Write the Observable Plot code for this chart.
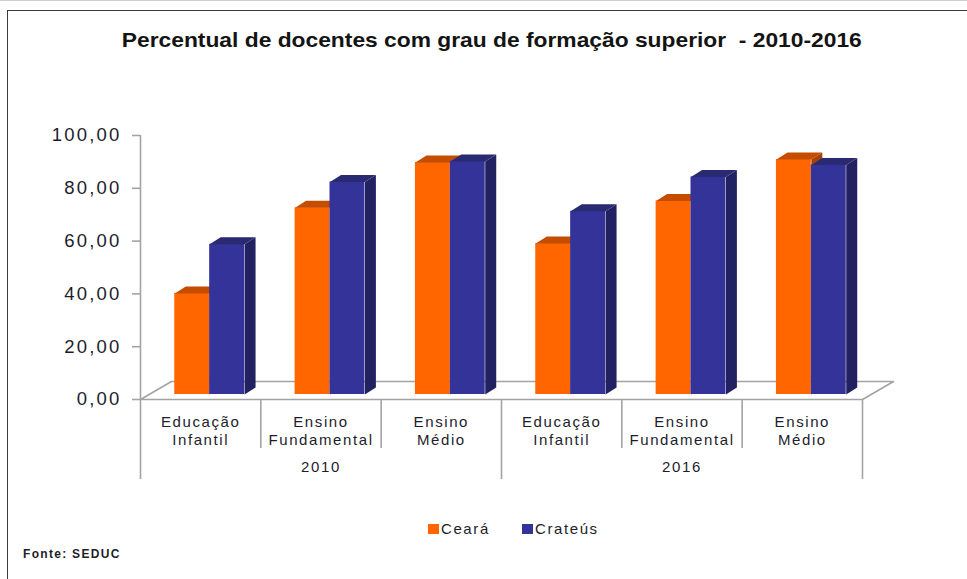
<!DOCTYPE html>
<html>
<head>
<meta charset="utf-8">
<script src="https://cdn.jsdelivr.net/npm/d3@7"></script>
<script src="https://cdn.jsdelivr.net/npm/@observablehq/plot@0.6"></script>
<style>
  html, body { margin: 0; padding: 0; background: #fff; overflow: hidden; width: 967px; height: 579px; }
  body { position: relative; font-family: "Liberation Sans", Arial, sans-serif; }
  #topline { position: absolute; left: 0; top: 0; width: 967px; height: 1px; background: #cfcfcf; }
  #frame { position: absolute; left: 7px; top: 10px; width: 1200px; height: 900px; border-left: 1px solid #3c3c3c; border-top: 1px solid #3c3c3c; }
  #title { position: absolute; top: 29px; left: 0; width: 984px; text-align: center; }
  #title span { display: inline-block; font-weight: bold; font-size: 21px; line-height: 21px; white-space: pre; color: #141414; transform-origin: 50% 50%; }
  #chart { position: absolute; left: 0; top: 0; }
  .lg-sw { position: absolute; width: 11px; height: 10px; }
  .lg-tx { position: absolute; font-size: 15px; line-height: 15px; letter-spacing: 1.6px; color: #1d1d2b; white-space: pre; }
  #caption { position: absolute; left: 23px; top: 548px; font-size: 12px; line-height: 12px; font-weight: bold; letter-spacing: 1.3px; color: #1d1d2b; white-space: pre; }
  g[aria-label="y-axis tick label"] text { letter-spacing: 2.2px; }
  g[aria-label="text"] text { letter-spacing: 1.6px; }
</style>
</head>
<body>
<div id="topline"></div>
<div id="frame"></div>
<div id="title"><span id="titleText"></span></div>
<div id="chart"></div>
<div id="legend"></div>
<div id="caption"></div>
<script>
// ---------------- data ----------------
const titleText = "Percentual de docentes com grau de formação superior  - 2010-2016";
const captionText = "Fonte: SEDUC";
const categories = ["Educação\nInfantil", "Ensino\nFundamental", "Ensino\nMédio",
                    "Educação\nInfantil", "Ensino\nFundamental", "Ensino\nMédio"];
const years = ["2010", "2016"];
const series = ["Ceará", "Crateús"];
const ceara   = [38.3, 70.7, 87.9, 57.2, 73.3, 89.0];
const crateus = [56.9, 80.5, 88.3, 69.4, 82.4, 86.9];
const yTicks = [0, 20, 40, 60, 80, 100];

// ---------------- styles ----------------
const frontColors = ["#FF6600", "#333399"];
const topColors   = ["#C44D00", "#2A2A72"];
const sideColors  = ["#A94200", "#222262"];
const gridGray = "#a3a3a3";
const textColor = "#1d1d2b";

// layout
const W = 967, H = 490;
const mL = 140, mR = 105, mT = 135, mB = 91;
const kx = categories.length / (W - mL - mR);   // x units per px
const ky = 100 / (H - mT - mB);                   // y units per px
const BAR = 0.29;                                 // bar width as fraction of band
const SHIFT_X = 9, SHIFT_Y = -5;                  // 3D plane shift of bars (px)
const DEPTH_X = 11 * kx, DEPTH_Y = 7 * ky;        // bar depth (in units)
const FLOOR_X = 31 * kx, FLOOR_Y = 18 * ky;       // floor depth (in units)

// ---------------- build tables ----------------
const values = [ceara, crateus];
const bars = [];
categories.forEach((c, i) => {
  series.forEach((s, si) => {
    const x1 = i + 0.5 - BAR + si * BAR;
    bars.push({id: `${i}-${si}`, si, x1, x2: x1 + BAR, v: values[si][i]});
  });
});
function sidePoly(b) {
  return [
    {id: b.id, x: b.x2, y: 0},
    {id: b.id, x: b.x2, y: b.v},
    {id: b.id, x: b.x2 + DEPTH_X, y: b.v + DEPTH_Y},
    {id: b.id, x: b.x2 + DEPTH_X, y: DEPTH_Y}
  ];
}
function topPoly(b) {
  return [
    {id: b.id, x: b.x1, y: b.v},
    {id: b.id, x: b.x2, y: b.v},
    {id: b.id, x: b.x2 + DEPTH_X, y: b.v + DEPTH_Y},
    {id: b.id, x: b.x1 + DEPTH_X, y: b.v + DEPTH_Y}
  ];
}
const n = categories.length;
const floor = [
  {x: 0, y: 0}, {x: n, y: 0}, {x: n + FLOOR_X, y: FLOOR_Y}, {x: FLOOR_X, y: FLOOR_Y}
];

const barMarks = [];
series.forEach((s, si) => {
  const bs = bars.filter(b => b.si === si);
  barMarks.push(
    Plot.rectY(bs, {x1: "x1", x2: "x2", y1: 0, y2: "v", fill: frontColors[si], dx: SHIFT_X, dy: SHIFT_Y}),
    Plot.line(bs.flatMap(sidePoly), {x: "x", y: "y", z: "id", fill: sideColors[si], stroke: "none", curve: "linear-closed", dx: SHIFT_X, dy: SHIFT_Y}),
    Plot.line(bs.flatMap(topPoly), {x: "x", y: "y", z: "id", fill: topColors[si], stroke: "none", curve: "linear-closed", dx: SHIFT_X, dy: SHIFT_Y})
  );
});

const fmt = d => d.toFixed(2).replace(".", ",");

const chart = Plot.plot({
  width: W, height: H,
  marginLeft: mL, marginRight: mR, marginTop: mT, marginBottom: mB,
  style: {fontFamily: '"Liberation Sans", Arial, sans-serif', background: "transparent", overflow: "visible"},
  x: {domain: [0, n]},
  y: {domain: [0, 100]},
  marks: [
    Plot.line(floor, {x: "x", y: "y", curve: "linear-closed", stroke: gridGray, strokeWidth: 1.6, fill: "none"}),
    Plot.ruleX([0], {y1: 0, y2: 100, stroke: gridGray, strokeWidth: 1.6}),
    Plot.axisY(yTicks, {tickSize: 8, tickPadding: 11, tickFormat: fmt, fontSize: 18.5, stroke: gridGray, strokeWidth: 1.6, fill: textColor, label: null}),
    Plot.axisX([1, 2, 4, 5], {tickSize: 49, tickFormat: () => "", stroke: gridGray, strokeWidth: 1.6, label: null}),
    Plot.axisX([0, 3, 6], {tickSize: 80, tickFormat: () => "", stroke: gridGray, strokeWidth: 1.6, label: null}),
    ...barMarks,
    Plot.text(categories, {x: (d, i) => i + 0.5, text: d => d, frameAnchor: "bottom", lineAnchor: "top", dy: 14.4, fontSize: 15, lineHeight: 1.2, fill: textColor}),
    Plot.text(years, {x: (d, i) => i * 3 + 1.5, text: d => d, frameAnchor: "bottom", lineAnchor: "top", dy: 62.3, fontSize: 15, fill: textColor})
  ]
});
document.getElementById("chart").appendChild(chart);
// letter spacing for the category / year labels (Excel-like rendering)
chart.querySelectorAll('g[aria-label="text"] text').forEach(t => t.style.letterSpacing = "1.6px");
chart.querySelectorAll('g[aria-label="y-axis tick label"] text').forEach(t => t.style.letterSpacing = "2.2px");

// title
const tspan = document.getElementById("titleText");
tspan.textContent = titleText;
const targetW = 740;
const w0 = tspan.getBoundingClientRect().width;
if (w0 > 0) tspan.style.transform = `scaleX(${targetW / w0})`;

// legend
const legend = document.getElementById("legend");
const swLeft = [428, 522];
series.forEach((s, si) => {
  const sw = document.createElement("div");
  sw.className = "lg-sw";
  sw.style.left = swLeft[si] + "px";
  sw.style.top = "524px";
  sw.style.background = frontColors[si];
  legend.appendChild(sw);
  const tx = document.createElement("div");
  tx.className = "lg-tx";
  tx.style.left = (swLeft[si] + 13) + "px";
  tx.style.top = "521px";
  tx.textContent = s;
  legend.appendChild(tx);
});
document.getElementById("caption").textContent = captionText;
</script>
</body>
</html>
